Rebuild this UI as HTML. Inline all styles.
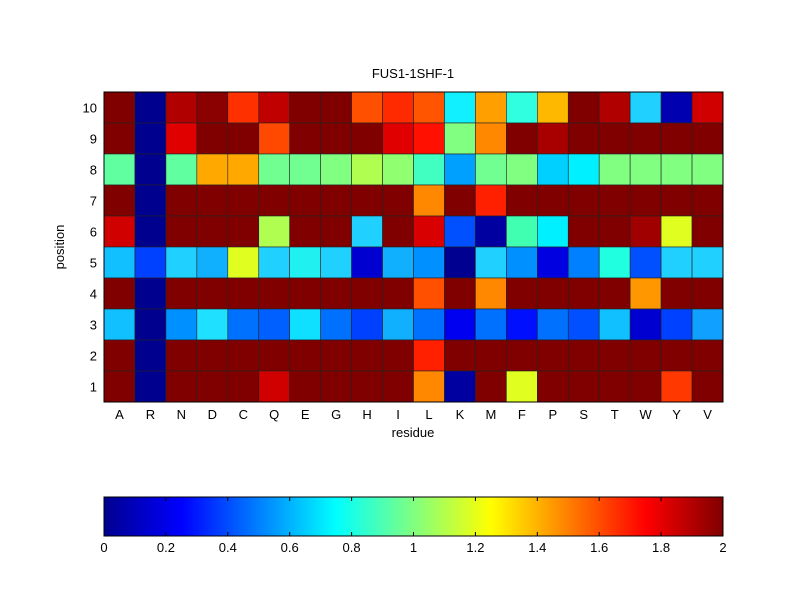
<!DOCTYPE html>
<html><head><meta charset="utf-8"><style>
body{margin:0;background:#fff;width:800px;height:600px;overflow:hidden;font-family:"Liberation Sans",sans-serif}
</style></head><body>
<svg id="s" width="800" height="600" xmlns="http://www.w3.org/2000/svg" font-family="Liberation Sans, sans-serif" font-size="13">
<defs><linearGradient id="jet" x1="0" x2="1" y1="0" y2="0">
<stop offset="0" stop-color="#00008f"/><stop offset="0.125" stop-color="#0000ff"/><stop offset="0.375" stop-color="#00ffff"/><stop offset="0.625" stop-color="#ffff00"/><stop offset="0.875" stop-color="#ff0000"/><stop offset="1" stop-color="#800000"/>
</linearGradient></defs>
<g id="cells"></g>
<rect x="104" y="92" width="619" height="310" fill="none" stroke="#000" stroke-width="1"/>
<text x="413" y="78" text-anchor="middle">FUS1-1SHF-1</text>
<text x="413" y="437" text-anchor="middle">residue</text>
<text transform="translate(64,247) rotate(-90)" text-anchor="middle">position</text>
<rect x="104" y="497" width="619" height="39" fill="url(#jet)" stroke="#000"/>
<g id="cb" text-anchor="middle"></g>
</svg>
<script>
var D='#800000',N='#00008f';
var rows=[
[D,N,'#b00000','#8b0000','#ff3000','#c00000',D,D,'#ff5000','#ff2a00','#ff5500','#10f0ff','#ffa000','#30ffe0','#ffb800',D,'#b00000','#20d0ff','#0000b0','#d00000'],
[D,N,'#e00000',D,D,'#ff4800',D,D,D,'#e00000','#ff1000','#80ff80','#ff8800',D,'#a80000',D,D,D,D,D],
['#60ffa0',N,'#60ffa0','#ffa800','#ffa800','#70ff90','#70ff90','#80ff80','#b0ff50','#90ff70','#40ffc0','#00a0ff','#70ff90','#80ff80','#00d0ff','#00f0ff','#80ff80','#80ff80','#80ff80','#80ff80'],
[D,N,D,D,D,D,D,D,D,D,'#ff8800',D,'#ff2000',D,D,D,D,D,D,D],
['#d00000',N,D,D,D,'#b0ff50',D,D,'#20d0ff',D,'#d80000','#0050ff','#0000a0','#40ffb0','#00f0ff',D,D,'#a00000','#e0ff20',D],
['#10c0ff','#0040ff','#20d0ff','#10b0ff','#e0ff20','#20d0ff','#20f0f0','#20d0ff','#0000d0','#10b0ff','#0090ff','#000090','#20d0ff','#0090ff','#0000e0','#0080ff','#20ffe0','#0050ff','#20d0ff','#20d0ff'],
[D,N,D,D,D,D,D,D,D,D,'#ff5000',D,'#ff8800',D,D,D,D,'#ff9800',D,D],
['#10c0ff',N,'#0090ff','#20e0ff','#0070ff','#0060ff','#10e0ff','#0070ff','#0040ff','#10b0ff','#0070ff','#0000f0','#0070ff','#0010ff','#0070ff','#0050ff','#10c0ff','#0000d0','#0040ff','#10a0ff'],
[D,N,D,D,D,D,D,D,D,D,'#ff2000',D,D,D,D,D,D,D,D,D],
[D,N,D,D,D,'#d00000',D,D,D,D,'#ff8800','#0000a0',D,'#e0ff20',D,D,D,D,'#ff3800',D]];
var labs='ARNDCQEGHILKMFPSTWYV'.split('');
var ns='http://www.w3.org/2000/svg',g=document.getElementById('cells'),s=document.getElementById('s');
var cw=619/20,ch=31;
function el(t,a,p,txt){var e=document.createElementNS(ns,t);for(var k in a)e.setAttribute(k,a[k]);if(txt)e.textContent=txt;(p||g).appendChild(e);return e;}
for(var r=0;r<10;r++)for(var c=0;c<20;c++)el('rect',{x:104+c*cw,y:92+r*ch,width:cw,height:ch,fill:rows[r][c],stroke:'#222','stroke-width':0.6});
for(var c=0;c<20;c++){el('text',{x:104+(c+.5)*cw,y:419,'text-anchor':'middle'},s,labs[c]);}
for(var r=0;r<10;r++){el('text',{x:97,y:92+(r+.5)*ch+5,'text-anchor':'end'},s,String(10-r));}
var cb=document.getElementById('cb');
var lbl=['0','0.2','0.4','0.6','0.8','1','1.2','1.4','1.6','1.8','2'];
for(var i=0;i<=10;i++){var x=104+619*i/10;el('text',{x:x,y:552},cb,lbl[i]);
if(i>0&&i<10){el('line',{x1:x,x2:x,y1:497,y2:501,stroke:'#000'},cb);el('line',{x1:x,x2:x,y1:532,y2:536,stroke:'#000'},cb);}}
</script>
</body></html>
